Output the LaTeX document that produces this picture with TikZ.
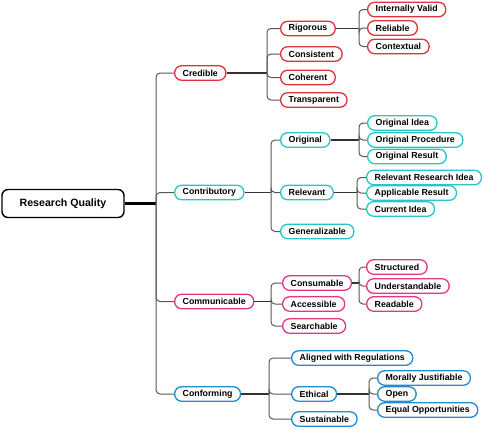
\documentclass[tikz,border=0pt]{standalone}
\usepackage{fontspec}
\setmainfont{Liberation Sans}
\usepackage{tikz}
\usetikzlibrary{positioning}
\definecolor{credred}{RGB}{222,50,62}
\definecolor{contcyan}{RGB}{40,198,200}
\definecolor{commpink}{RGB}{224,56,132}
\definecolor{confblue}{RGB}{34,140,204}

\begin{document}
\begin{tikzpicture}[x=1pt, y=-1pt,
    leaf/.style={draw, line width=1.3pt, fill=white, rounded corners=7pt, minimum height=14.5pt,
        inner xsep=8pt, inner ysep=0pt, anchor=west, font=\bfseries\fontsize{8.8}{10}\selectfont},
    link/.style={draw=black!65, line width=1pt, rounded corners=4pt},
    stem/.style={draw=black!80, line width=1.4pt}]
\useasboundingbox (0,0) rectangle (484,429);

% Root
\node[draw, line width=1.4pt, rounded corners=6pt, minimum width=122pt, minimum height=28pt,
    font=\bfseries\fontsize{10.6}{12}\selectfont] (root) at (63,203.5) {Research Quality};

% Main branches
\foreach \n/\t/\y/\c in {cred/Credible/73/credred, contr/Contributory/192.5/contcyan,
                         comm/Communicable/301.5/commpink, conf/Conforming/394/confblue} {
    \node[leaf, draw=\c] (\n) at (174,\y) {\t};
}

% Credible
\foreach \t/\y [count=\i] in {Rigorous/28.5, Consistent/54, Coherent/77.5, Transparent/100} {
    \node[leaf, draw=credred] (cred\i) at (280,\y) {\t};
}
\foreach \t/\y [count=\i] in {Internally Valid/9.5, Reliable/28, Contextual/46.5} {
    \node[leaf, draw=credred] (rig\i) at (367,\y) {\t};
}

% Contributory
\foreach \t/\y [count=\i] in {Original/140, Relevant/192.5, Generalizable/231.5} {
    \node[leaf, draw=contcyan] (contr\i) at (280,\y) {\t};
}
\foreach \t/\y [count=\i] in {Original Idea/123, Original Procedure/140, Original Result/156.5} {
    \node[leaf, draw=contcyan] (orig\i) at (367,\y) {\t};
}
\foreach \t/\y [count=\i] in {Relevant Research Idea/177.5, Applicable Result/193, Current Idea/209} {
    \node[leaf, draw=contcyan] (rel\i) at (366,\y) {\t};
}

% Communicable
\foreach \t/\y [count=\i] in {Consumable/283, Accessible/304, Searchable/326} {
    \node[leaf, draw=commpink] (comm\i) at (282,\y) {\t};
}
\foreach \t/\y [count=\i] in {Structured/267, Understandable/286, Readable/304} {
    \node[leaf, draw=commpink] (cons\i) at (366,\y) {\t};
}

% Conforming
\foreach \t/\y [count=\i] in {Aligned with Regulations/358, Ethical/394, Sustainable/419} {
    \node[leaf, draw=confblue] (conf\i) at (291,\y) {\t};
}
\foreach \t/\y [count=\i] in {Morally Justifiable/378, Open/394, Equal Opportunities/410} {
    \node[leaf, draw=confblue] (eth\i) at (377,\y) {\t};
}

% Brackets
\coordinate (rootB) at (156,203.5);
\coordinate (credB) at (267,73);
\coordinate (rigB) at (359,28.5);
\coordinate (contrB) at (271,192.5);
\coordinate (origB) at (359,140);
\coordinate (relB) at (357,192.5);
\coordinate (commB) at (271,301.5);
\coordinate (consB) at (359,283);
\coordinate (confB) at (269,394);
\coordinate (ethB) at (369,394);

% Connections
\draw[stem, line width=2.4pt, draw=black] (root.east) -- (rootB);
\foreach \n in {cred,contr,comm,conf} {
    \draw[link] (rootB) |- (\n.west);
}
\foreach \p/\b/\k in {cred/credB/cred, cred1/rigB/rig, contr/contrB/contr, contr1/origB/orig,
                      contr2/relB/rel, comm/commB/comm, comm1/consB/cons, conf/confB/conf, conf2/ethB/eth} {
    \draw[stem] (\p.east) -- (\b);
    \foreach \i in {1,2,3} {
        \draw[link] (\b) |- (\k\i.west);
    }
}
\draw[link] (credB) |- (cred4.west);
\end{tikzpicture}
\end{document}
